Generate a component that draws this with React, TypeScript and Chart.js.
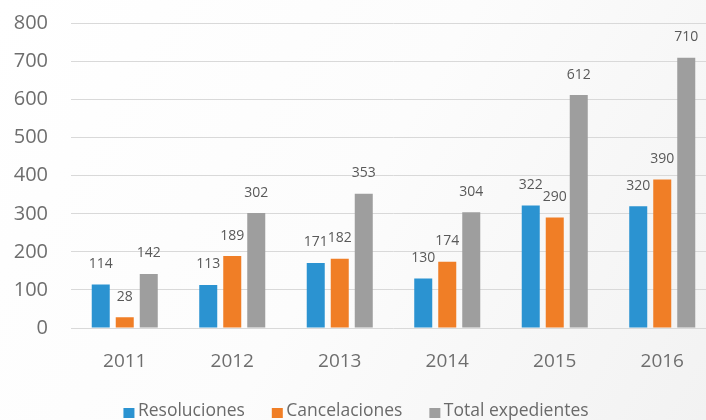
import React, { useEffect, useRef } from "react";
import { Chart, registerables } from "chart.js";

Chart.register(...registerables);

const years = ["2011", "2012", "2013", "2014", "2015", "2016"];
const resoluciones = [114, 113, 171, 130, 322, 320];
const cancelaciones = [28, 189, 182, 174, 290, 390];
const totalExpedientes = [142, 302, 353, 304, 612, 710];
const seriesNames = ["Resoluciones", "Cancelaciones", "Total expedientes"];
const seriesColors = ["#2B93D1", "#F07E26", "#9E9E9E"];

const FONT = "'Open Sans', 'Noto Sans', sans-serif";

const bgPlugin = {
  id: "bgGradient",
  beforeDraw(chart: any) {
    const { ctx, width, height } = chart;
    ctx.save();
    const g = ctx.createLinearGradient(0, 0, 706, 420);
    g.addColorStop(0, "#ffffff");
    g.addColorStop(0.5, "#fcfcfc");
    g.addColorStop(1, "#f2f2f2");
    ctx.fillStyle = g;
    ctx.fillRect(0, 0, width, height);
    ctx.restore();
  },
};

const valueLabels = {
  id: "valueLabels",
  afterDatasetsDraw(chart: any) {
    const { ctx } = chart;
    ctx.save();
    ctx.font = `14px ${FONT}`;
    ctx.fillStyle = "#595959";
    ctx.textAlign = "center";
    ctx.textBaseline = "middle";
    chart.data.datasets.forEach((ds: any, i: number) => {
      const meta = chart.getDatasetMeta(i);
      meta.data.forEach((el: any, j: number) => {
        ctx.fillText(String(ds.data[j]), el.x, el.y - 20.5);
      });
    });
    ctx.restore();
  },
};

const customLegend = {
  id: "customLegend",
  afterDraw(chart: any) {
    const { ctx } = chart;
    ctx.save();
    ctx.font = `17.5px ${FONT}`;
    ctx.textBaseline = "middle";
    ctx.textAlign = "left";
    const box = 11;
    const gapText = 3.5;
    const gapItem = 27;
    const items = chart.data.datasets.map((ds: any) => ({
      label: ds.label,
      color: ds.backgroundColor,
      w: box + gapText + ctx.measureText(ds.label).width,
    }));
    const total = items.reduce((s: number, it: any) => s + it.w, 0) + gapItem * (items.length - 1);
    let x = 356 - total / 2;
    const y = 411;
    items.forEach((it: any) => {
      ctx.fillStyle = it.color;
      ctx.fillRect(x, y - 3, box, 10);
      ctx.fillStyle = "#6a6a6a";
      ctx.fillText(it.label, x + box + gapText, y);
      x += it.w + gapItem;
    });
    ctx.restore();
  },
};

export default function App() {
  const ref = useRef<HTMLCanvasElement | null>(null);
  useEffect(() => {
    if (!ref.current) return;
    const chart = new Chart(ref.current, {
      type: "bar",
      data: {
        labels: years,
        datasets: [resoluciones, cancelaciones, totalExpedientes].map((d, i) => ({
          label: seriesNames[i],
          data: d,
          backgroundColor: seriesColors[i],
          borderWidth: 0,
          categoryPercentage: 0.67,
          barPercentage: 0.75,
        })),
      },
      options: {
        animation: false,
        responsive: false,
        maintainAspectRatio: false,
        layout: { padding: { top: 23.5, right: 14, bottom: 0, left: 0 } },
        plugins: {
          legend: { display: false },
          tooltip: { enabled: false },
        },
        scales: {
          x: {
            grid: { display: false, drawTicks: false },
            border: { display: false },
            ticks: { color: "#6e6e6e", font: { family: FONT, size: 19 }, padding: 22 },
            afterFit: (axis: any) => {
              axis.height = 92;
            },
          },
          y: {
            min: 0,
            max: 800,
            ticks: { stepSize: 100, color: "#6e6e6e", font: { family: FONT, size: 20 }, padding: 23 },
            grid: { color: "#d9d9d9", lineWidth: 1, drawTicks: false },
            border: { display: false },
            afterFit: (axis: any) => {
              axis.width = 71;
              axis.paddingTop = 0;
              axis.paddingBottom = 0;
            },
          },
        },
      },
      plugins: [bgPlugin, valueLabels, customLegend],
    });
    return () => chart.destroy();
  }, []);
  return (
    <div style={{ position: "absolute", left: 0, top: 0, width: 706, height: 420, overflow: "hidden" }}>
      <canvas ref={ref} width={730} height={420} style={{ display: "block", width: 730, height: 420 }} />
    </div>
  );
}
